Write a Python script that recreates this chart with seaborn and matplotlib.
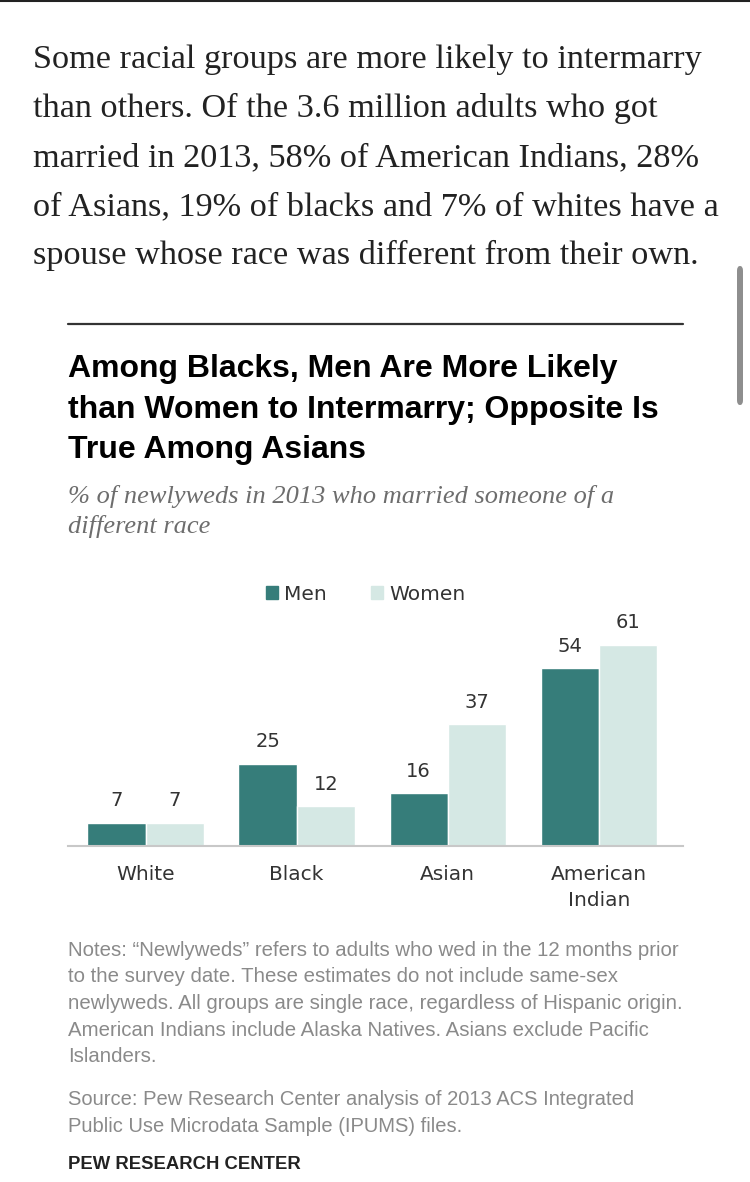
import pandas as pd
import matplotlib.pyplot as plt
import seaborn as sns
from matplotlib.lines import Line2D
from matplotlib.patches import Patch, FancyBboxPatch

# data
groups = ["White", "Black", "Asian", "American\nIndian"]
men = [7, 25, 16, 54]
women = [7, 12, 37, 61]
series = ["Men", "Women"]
colors = ["#367d7a", "#d5e8e4"]

intro_lines = [
    "Some racial groups are more likely to intermarry",
    "than others. Of the 3.6 million adults who got",
    "married in 2013, 58% of American Indians, 28%",
    "of Asians, 19% of blacks and 7% of whites have a",
    "spouse whose race was different from their own.",
]
title_lines = [
    "Among Blacks, Men Are More Likely",
    "than Women to Intermarry; Opposite Is",
    "True Among Asians",
]
subtitle_lines = [
    "% of newlyweds in 2013 who married someone of a",
    "different race",
]
note_lines = [
    "Notes: \u201cNewlyweds\u201d refers to adults who wed in the 12 months prior",
    "to the survey date. These estimates do not include same-sex",
    "newlyweds. All groups are single race, regardless of Hispanic origin.",
    "American Indians include Alaska Natives. Asians exclude Pacific",
    "Islanders.",
]
source_lines = [
    "Source: Pew Research Center analysis of 2013 ACS Integrated",
    "Public Use Microdata Sample (IPUMS) files.",
]

df = pd.DataFrame({
    "group": groups * 2,
    "sex": ["Men"] * len(groups) + ["Women"] * len(groups),
    "pct": men + women,
})

sns.set_theme(style="white")
W, H = 750, 1182
fig = plt.figure(figsize=(W / 100, H / 100), dpi=100)


def fy(y):
    return 1 - y / H


def put(lines, x, y0, step, **kw):
    for i, s in enumerate(lines):
        fig.text(x / W, fy(y0 + i * step), s, va="baseline", ha="left", **kw)


# page chrome: top border and scrollbar
fig.add_artist(Line2D([0, 1], [fy(1), fy(1)], color="#222222", lw=1.5))
fig.add_artist(FancyBboxPatch((737 / W, fy(405)), 6 / W, 139 / H,
                              boxstyle="round,pad=0,rounding_size=0.004",
                              transform=fig.transFigure, color="#8e8e8e", lw=0))

put(intro_lines, 33, 68, 49, family="Liberation Serif", fontsize=24.7, color="#222222")

fig.add_artist(Line2D([68 / W, 683 / W], [fy(324), fy(324)], color="#333333", lw=1.6))

put(title_lines, 68, 377, 40.5, family="Liberation Sans", fontweight="bold",
    fontsize=23, color="#000000")
put(subtitle_lines, 68, 503, 30, family="Liberation Serif", style="italic",
    fontsize=19, color="#6d6d6d")

# bar chart
ax = fig.add_axes([68 / W, fy(846), (683 - 68) / W, (846 - 580) / H])
sns.barplot(data=df, x="group", y="pct", hue="sex", palette=colors, width=0.77,
            errorbar=None, saturation=1, legend=False, ax=ax)
for cont in ax.containers:
    ax.bar_label(cont, padding=9, fontsize=14, color="#333333", family="DejaVu Sans")
ax.set_xlim(-0.513, 3.556)
ax.set_ylim(0, 80.7)
ax.set_xlabel("")
ax.set_ylabel("")
ax.set_yticks([])
ax.tick_params(axis="x", length=0, pad=14, labelsize=14.5, labelcolor="#333333")
for lab in ax.get_xticklabels():
    lab.set_family("DejaVu Sans")
    lab.set_linespacing(1.45)
for side in ["top", "left", "right"]:
    ax.spines[side].set_visible(False)
ax.spines["bottom"].set_color("#c8c8c8")
ax.spines["bottom"].set_linewidth(1.5)
ax.set_facecolor("none")

handles = [Patch(color=c, label=s) for s, c in zip(series, colors)]
fig.legend(handles=handles, loc="center", bbox_to_anchor=(366 / W, fy(594)), ncol=2,
           frameon=False, handlelength=0.6, handleheight=0.6, handletextpad=0.3,
           columnspacing=2.2, prop={"family": "DejaVu Sans", "size": 14.5},
           labelcolor="#333333")

put(note_lines, 68, 956, 26.5, family="Liberation Sans", fontsize=14.7,
    color="#8a8a8a")
put(source_lines, 68, 1105, 26.5, family="Liberation Sans", fontsize=14.5,
    color="#8a8a8a")
put(["PEW RESEARCH CENTER"], 68, 1169, 0, family="Liberation Sans",
    fontweight="bold", fontsize=13.3, color="#222222")

fig.savefig("out.png", dpi=100)
